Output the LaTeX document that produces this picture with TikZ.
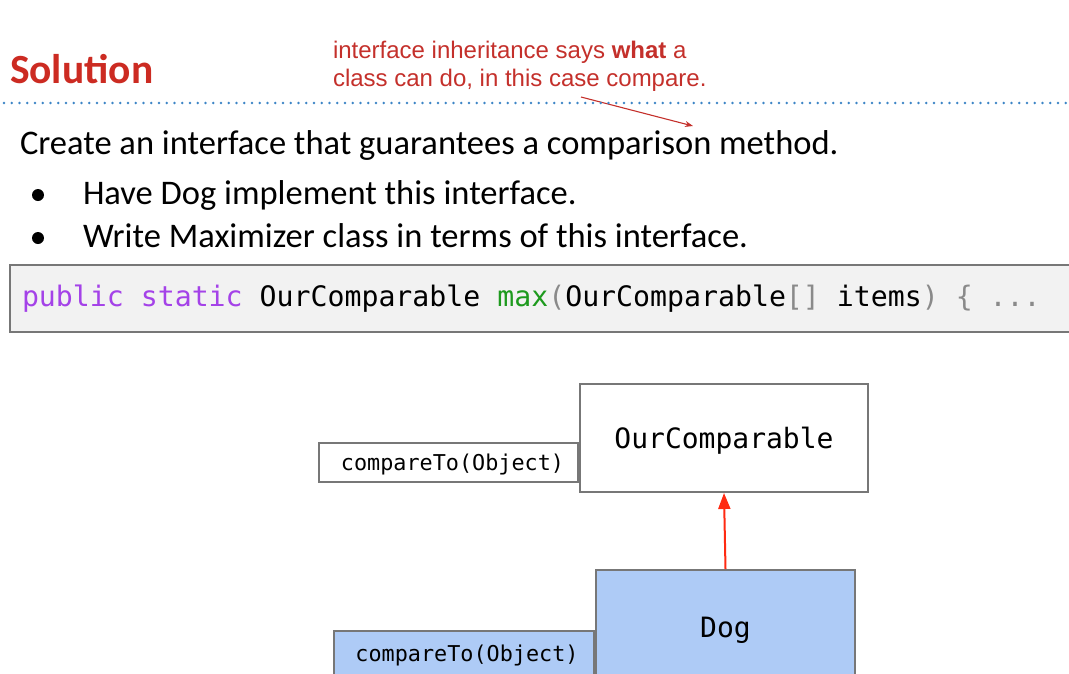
\documentclass[tikz,border=0pt]{standalone}
\usepackage{fontspec}
\setmainfont{Carlito}
\newfontfamily\notefont{Liberation Sans}
\newfontfamily\codefont{DejaVu Sans Mono}
\usetikzlibrary{arrows.meta}
\definecolor{titlered}{HTML}{CC2B22}
\definecolor{notered}{HTML}{C4302B}
\definecolor{dotblue}{HTML}{3D85C6}
\definecolor{codebg}{HTML}{F2F2F2}
\definecolor{kwpurple}{HTML}{A442E8}
\definecolor{fngreen}{HTML}{1E9A1E}
\definecolor{brgray}{HTML}{8A8A8A}
\definecolor{boxgray}{HTML}{777777}
\definecolor{dogblue}{HTML}{AECBF6}
\definecolor{inhred}{HTML}{FF2A12}
\tikzset{
  txt/.style={inner sep=0pt, outer sep=0pt, anchor=base west},
  umlbox/.style={draw=boxgray, line width=2pt, inner sep=0pt, fill=white, text depth=0pt},
  bodyfont/.style={font=\fontsize{34.5}{40}\selectfont},
  notestyle/.style={txt, text=notered, font=\notefont\fontsize{24}{28}\selectfont},
}
\begin{document}
\begin{tikzpicture}[x=1pt,y=-1pt]
\useasboundingbox (0,0) rectangle (1069,673);
\clip (0,0) rectangle (1069,673);

% heading and note
\node[txt, text=titlered, font=\fontsize{41.5}{48}\selectfont\bfseries] (title) at (10,83) {Solution};
\node[notestyle] (note1) at (333,58) {interface inheritance says \textbf{what} a};
\node[notestyle] (note2) at (333,86) {class can do, in this case compare.};
\coordinate (notetail) at (581,97);
\coordinate (notehead) at (693,126);
\draw[notered, line width=1.1pt, -{Stealth[length=8pt,width=6pt]}] (notetail) -- (notehead);

% dotted separator
\coordinate (sepL) at (4,103);
\coordinate (sepR) at (1069,103);
\draw[dotblue, line width=2.6pt, line cap=round, dash pattern=on 0pt off 7.75pt] (sepL) -- (sepR);

% body text
\node[txt, bodyfont] (intro) at (20,154) {Create an interface that guarantees a comparison method.};
\node[circle, fill=black, inner sep=0pt, minimum size=12pt] (b1) at (38,195) {};
\node[circle, fill=black, inner sep=0pt, minimum size=12pt] (b2) at (38,238) {};
\node[txt, bodyfont] (item1) at (83,204) {Have Dog implement this interface.};
\node[txt, bodyfont] (item2) at (83,247) {Write Maximizer class in terms of this interface.};

% code line
\node[draw=boxgray, line width=1.5pt, fill=codebg, anchor=north west, minimum width=1080pt, minimum height=67pt, inner sep=0pt] (codebox) at (9,264) {};
\node[txt, font=\codefont\fontsize{28.2}{34}\selectfont] (code) at (22,306)
  {\textcolor{kwpurple}{public static} OurComparable \textcolor{fngreen}{max}\textcolor{brgray}{(}OurComparable\textcolor{brgray}{[]} items\textcolor{brgray}{) \{ ...}};

% class diagram
\node[umlbox, minimum width=288pt, minimum height=108pt, font=\codefont\fontsize{28}{32}\selectfont] (iface) at (724,438) {OurComparable};
\node[umlbox, anchor=east, minimum width=259pt, minimum height=39pt, font=\codefont\fontsize{21.8}{26}\selectfont] (ifacem) at (iface.west |- 462.5,462.5) {\hspace*{8pt}compareTo(Object)};
\node[umlbox, fill=dogblue, minimum width=259pt, minimum height=114pt, font=\codefont\fontsize{28}{32}\selectfont] (dog) at (725.5,627) {Dog};
\node[umlbox, fill=dogblue, anchor=east, minimum width=260pt, minimum height=44pt, font=\codefont\fontsize{21.8}{26}\selectfont] (dogm) at (dog.west |- 653,653) {\hspace*{6pt}compareTo(Object)};
\draw[inhred, line width=2pt, -{Triangle[length=16pt,width=12pt]}] (dog.north) -- (iface.south);
\end{tikzpicture}
\end{document}
